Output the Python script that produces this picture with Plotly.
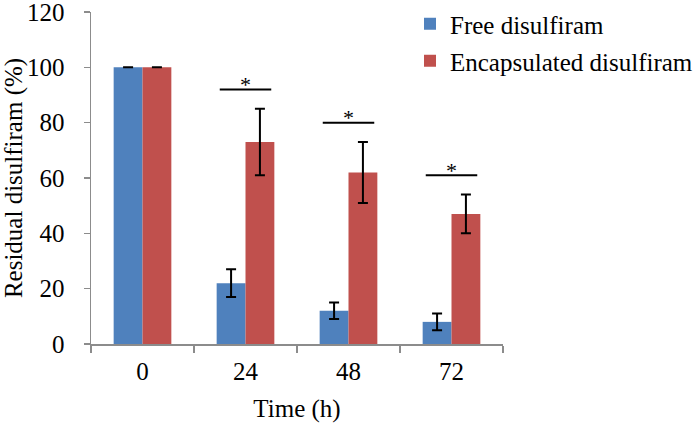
import plotly.graph_objects as go

time_labels = ["0", "24", "48", "72"]
free_vals = [100, 22, 12, 8]
free_err = [0, 5, 3, 3]
enc_vals = [100, 73, 62, 47]
enc_err = [0, 12, 11, 7]
sig_groups = [1, 2, 3]  # groups with significance marks (index into time_labels)

BLUE = "#4F81BD"
RED = "#C0504D"
AXIS = "#8C8C8C"
FONT = "Liberation Serif, Times New Roman, serif"
FS = 25

xs = list(range(len(time_labels)))

fig = go.Figure()
fig.add_trace(go.Bar(
    x=xs, y=free_vals, name="Free disulfiram", legend="legend",
    marker=dict(color=BLUE, line=dict(width=0)),
    error_y=dict(type="data", array=free_err, visible=True,
                 color="black", thickness=2, width=5),
))
fig.add_trace(go.Bar(
    x=xs, y=enc_vals, name="Encapsulated disulfiram", legend="legend2",
    marker=dict(color=RED, line=dict(width=0)),
    error_y=dict(type="data", array=enc_err, visible=True,
                 color="black", thickness=2, width=5),
))

for g in sig_groups:
    top = max(enc_vals[g] + enc_err[g], free_vals[g] + free_err[g])
    yline = top + 7
    fig.add_shape(type="line", xref="x", yref="y",
                  x0=g - 0.25, x1=g + 0.25, y0=yline, y1=yline,
                  line=dict(color="black", width=2))
    fig.add_annotation(x=g, y=yline, xref="x", yref="y", text="*",
                       showarrow=False, yanchor="middle", yshift=5,
                       font=dict(family=FONT, size=22, color="black"))

W, H = 697, 425
leg_common = dict(xref="container", yref="container", xanchor="left", yanchor="top",
                  bgcolor="rgba(0,0,0,0)", font=dict(family=FONT, size=FS),
                  itemwidth=30, borderwidth=0)

fig.update_layout(
    width=W, height=H,
    margin=dict(l=91, r=194, t=12, b=81, autoexpand=False),
    paper_bgcolor="white", plot_bgcolor="white",
    barmode="group", bargap=0.44, bargroupgap=0,
    font=dict(family=FONT, size=FS, color="black"),
    showlegend=True,
    legend=dict(x=410 / W, y=1 - 1 / H, **leg_common),
    legend2=dict(x=410 / W, y=1 - 38 / H, **leg_common),
    xaxis=dict(
        range=[-0.5, 3.5], tickmode="array", tickvals=xs, ticktext=time_labels,
        ticks="", showline=True, linecolor=AXIS, linewidth=1.5,
        showgrid=False, zeroline=False, automargin=False,
        ticklabelstandoff=4, ticklabeloverflow="allow",
        minor=dict(tickmode="array", tickvals=[-0.5, 0.5, 1.5, 2.5, 3.5],
                   ticks="outside", ticklen=7, tickcolor=AXIS, tickwidth=1.5,
                   showgrid=False),
        tickfont=dict(size=FS),
        title=dict(text="Time (h)", font=dict(size=FS), standoff=16),
    ),
    yaxis=dict(
        range=[0, 120], tickmode="array", tickvals=[0, 20, 40, 60, 80, 100, 120],
        ticks="outside", ticklen=6, tickcolor=AXIS, tickwidth=1.5,
        showline=True, linecolor=AXIS, linewidth=1.5,
        showgrid=False, zeroline=False, automargin=False,
        ticklabelstandoff=14, ticklabeloverflow="allow",
        tickfont=dict(size=FS),
        title=dict(text="Residual disulfiram (%)", font=dict(size=FS), standoff=2),
    ),
)

fig.write_html("out.html", config={"displayModeBar": False, "staticPlot": True},
               post_script="document.body.style.margin='0';document.body.style.padding='0';")
